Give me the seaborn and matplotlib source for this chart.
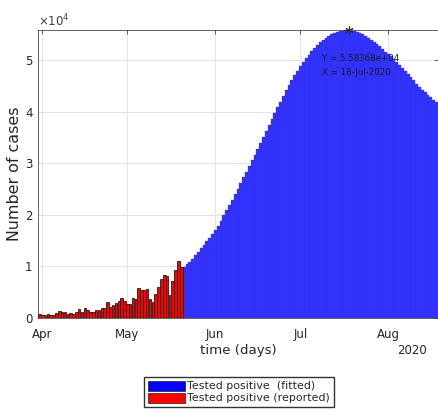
import numpy as np
import pandas as pd
import matplotlib
matplotlib.use('Agg')
import matplotlib.pyplot as plt
import seaborn as sns

# ---- data ----
start_day = '2020-03-31'
# daily reported positives, 31-Mar .. 20-May
reported = [700, 640, 640, 700, 570, 570, 900, 1340, 1150, 1080,
            700, 950, 830, 1080, 1720, 1210, 1850, 1600, 1210, 1210,
            1460, 1600, 1900, 1850, 3060, 2100, 2550, 2870, 3380, 3950,
            3250, 2740, 2680, 3820, 3630, 5730, 5350, 5350, 5670, 3630,
            3120, 4710, 6110, 7580, 8410, 8220, 4390, 7200, 9300, 11020, 9870]
# fitted curve, 21-May .. 18-Aug
fitted = [9900, 10400, 10900, 11500, 12200, 12800, 13500, 14200, 14900, 15600, 16300,
          17000, 17900, 18900, 19900, 20900, 21900, 22900, 24000, 25100, 26200,
          27300, 28400, 29500, 30600, 31700, 32800, 33900, 35100, 36300, 37500,
          38700, 39800, 40900, 42000, 43100, 44200, 45200, 46200, 47100, 48000,
          48900, 49700, 50400, 51100, 51800, 52400, 53000, 53500, 54000, 54400,
          54800, 55100, 55350, 55550, 55700, 55790, 55830, 55837, 55800, 55700,
          55550, 55350, 55100, 54800, 54400, 54000, 53600, 53150, 52700, 52200, 51700,
          51300, 50800, 50200, 49700, 49100, 48500, 47900, 47300, 46700, 46100,
          45500, 44900, 44300, 43800, 43300, 42800, 42300, 41900]
peak_value = 55836.8
peak_date = '2020-07-18'
month_ticks = ['2020-04-01', '2020-05-01', '2020-06-01', '2020-07-01', '2020-08-01']
month_labels = ['Apr', 'May', 'Jun', 'Jul', 'Aug']
y_ticks = [0, 10000, 20000, 30000, 40000, 50000]
y_labels = ['0', '1', '2', '3', '4', '5']

dates = pd.date_range(start_day, periods=len(reported) + len(fitted))
order = [d.strftime('%Y-%m-%d') for d in dates]
df_rep = pd.DataFrame({'date': order[:len(reported)], 'cases': reported})
df_fit = pd.DataFrame({'date': order[len(reported):], 'cases': fitted})

sns.set_style('white')
plt.rcParams['font.family'] = ['DejaVu Sans']

fig = plt.figure(figsize=(4.38, 4.15), dpi=100)
ax = fig.add_axes([38 / 438, 1 - 318 / 415, 400 / 438, 288 / 415])

blue_face, blue_edge = '#3333ff', '#2a2ae0'
sns.barplot(data=df_fit, x='date', y='cases', order=order, color=blue_face,
            saturation=1, width=1.0, edgecolor=blue_edge, linewidth=0.2,
            errorbar=None, ax=ax)
sns.barplot(data=df_rep, x='date', y='cases', order=order, color='#ff0000',
            saturation=1, width=0.9, edgecolor='black', linewidth=0.5,
            errorbar=None, ax=ax)

# peak datatip
pk = order.index(peak_date)
ax.plot([pk], [peak_value], marker=(6, 2, 0), ms=6, mew=0.8, color='#333333',
        clip_on=False, zorder=5)
ax.text(pk - 9.4, 50400, 'Y = 5.58368e+04', fontsize=6.2, color='#1a1a1a', va='center')
ax.text(pk - 9.4, 47700, 'X = 18-Jul-2020', fontsize=6.2, color='#1a1a1a', va='center')

# axes look (matlab-ish)
ax.set_xlim(-0.5, len(order) - 0.5)
ax.set_ylim(0, 55900)
ax.set_xticks([order.index(d) for d in month_ticks])
ax.set_xticklabels(month_labels)
ax.set_yticks(y_ticks)
ax.set_yticklabels(y_labels)
ax.set_axisbelow(True)
ax.grid(True, color='#e3e3e3', lw=0.7)
ax.tick_params(axis='both', direction='in', length=3, width=0.5, top=True, right=True,
               colors='#262626', labelsize=8.5)
ax.tick_params(axis='x', pad=7)
ax.tick_params(axis='y', pad=4)
for s in ax.spines.values():
    s.set_color('#262626')
    s.set_linewidth(0.5)
    s.set_visible(True)

ax.set_xlabel('time (days)', fontsize=9.6, color='#262626')
ax.xaxis.set_label_coords(0.5, -0.09)
ax.set_ylabel('Number of cases', fontsize=11.4, color='#262626')
ax.yaxis.set_label_coords(-0.04, 0.5)

fig.text(38 / 438, 1 - 21 / 415, r'$\times10^{4}$', fontsize=8.5, color='#404040',
         ha='left', va='center')
fig.text(427 / 438, 1 - 350 / 415, '2020', fontsize=8.5, color='#262626',
         ha='right', va='center')

handles = [plt.Rectangle((0, 0), 1, 1, fc='#0000ff', ec='#222222', lw=0.5),
           plt.Rectangle((0, 0), 1, 1, fc='#ff0000', ec='#222222', lw=0.5)]
fig.legend(handles, ['Tested positive  (fitted)', 'Tested positive (reported)'],
           loc='center', bbox_to_anchor=(238.7 / 438, 1 - 392 / 415), fontsize=7.9,
           frameon=True, fancybox=False, edgecolor='#333333', framealpha=1,
           handlelength=3.36, handleheight=1.07, handletextpad=0.22, labelspacing=0.1,
           borderpad=0.35, borderaxespad=0)

fig.savefig('out.png', dpi=100)
